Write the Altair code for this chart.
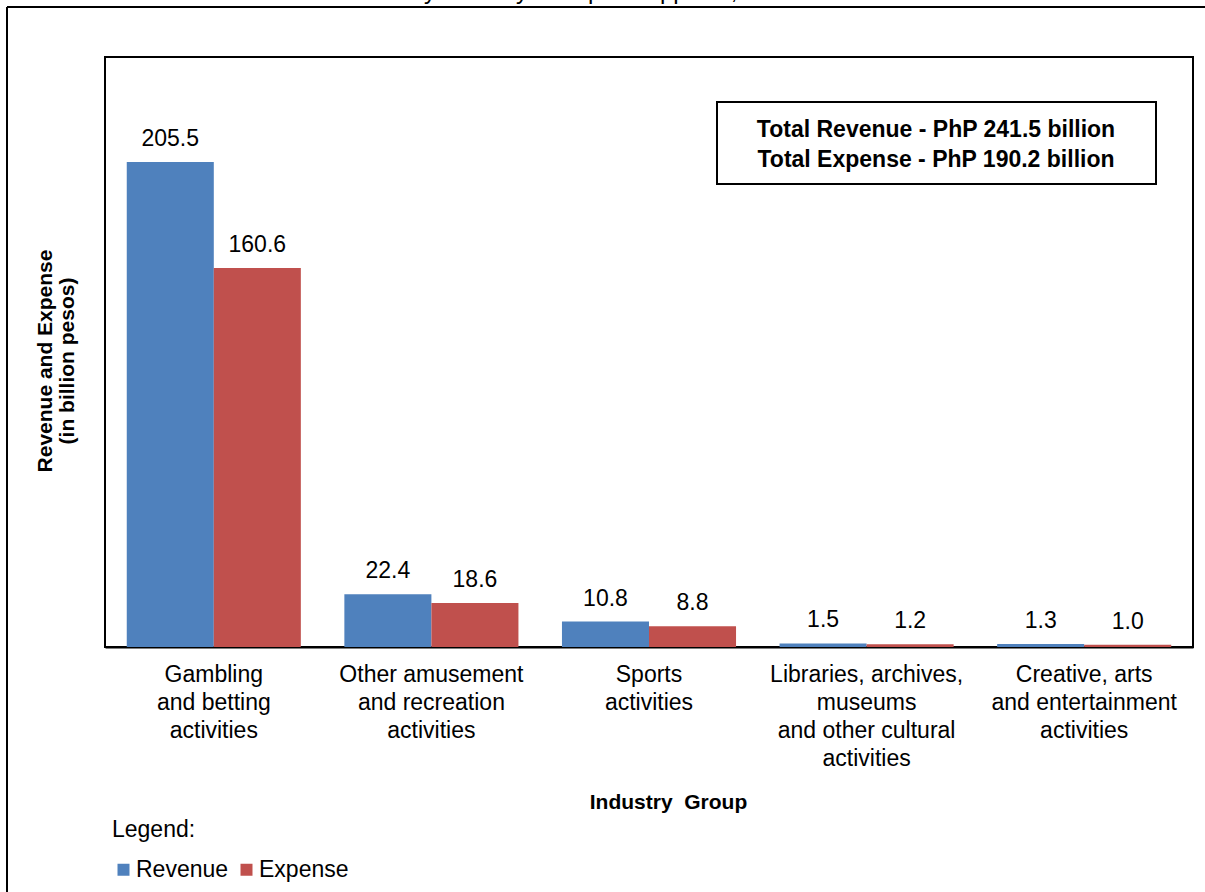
import altair as alt
import pandas as pd

# ---------------- data ----------------
categories = [
    "Gambling\nand betting\nactivities",
    "Other amusement\nand recreation\nactivities",
    "Sports\nactivities",
    "Libraries, archives,\nmuseums\nand other cultural\nactivities",
    "Creative, arts\nand entertainment\nactivities",
]
revenue = [205.5, 22.4, 10.8, 1.5, 1.3]
expense = [160.6, 18.6, 8.8, 1.2, 1.0]
series = ["Revenue", "Expense"]
colors = ["#4F81BD", "#C0504D"]
y_max = 250

totals_text = ["Total Revenue - PhP 241.5 billion", "Total Expense - PhP 190.2 billion"]
y_title = ["Revenue and Expense", "(in billion pesos)"]
x_title = "Industry \u00a0Group"
clipped_title = "by Industry Group: Philippines, 2015"
legend_title = "Legend:"

FONT = "Liberation Sans"

rows = []
for c, r, e in zip(categories, revenue, expense):
    rows.append({"group": c, "series": series[0], "value": r})
    rows.append({"group": c, "series": series[1], "value": e})
df = pd.DataFrame(rows)
one = pd.DataFrame({"k": [0]})

x_enc = alt.X(
    "group:N",
    sort=categories,
    scale=alt.Scale(paddingInner=0.2, paddingOuter=0.1),
    axis=alt.Axis(
        title=x_title,
        labelExpr="split(datum.label, '\\n')",
        labelAngle=0,
        labelFont=FONT,
        labelFontSize=23,
        labelColor="black",
        labelLineHeight=28,
        labelBaseline="top",
        labelPadding=16,
        labelLimit=0,
        labelOverlap=False,
        ticks=False,
        tickSize=0,
        domain=True,
        domainColor="black",
        domainWidth=2,
        grid=False,
        titleFont=FONT,
        titleFontSize=21,
        titleFontWeight="bold",
        titleColor="black",
        titleX=563,
        titleY=155,
        titleAlign="center",
        titleBaseline="middle",
    ),
)
xoff_enc = alt.XOffset("series:N", sort=series, scale=alt.Scale(domain=series, paddingInner=0, paddingOuter=0))
y_enc = alt.Y("value:Q", scale=alt.Scale(domain=[0, y_max], nice=False, zero=True), axis=None)

bars = alt.Chart(df).mark_bar().encode(
    x=x_enc,
    xOffset=xoff_enc,
    y=y_enc,
    color=alt.Color(
        "series:N",
        sort=series,
        scale=alt.Scale(domain=series, range=colors),
        legend=alt.Legend(
            title=legend_title,
            orient="none",
            legendX=7,
            legendY=762,
            direction="horizontal",
            symbolType="square",
            symbolSize=144,
            symbolStrokeWidth=0,
            labelFont=FONT,
            labelFontSize=23,
            labelColor="black",
            labelOffset=1,
            labelLimit=0,
            columnPadding=6,
            titleFont=FONT,
            titleFontSize=23,
            titleFontWeight="normal",
            titleColor="black",
            titleAnchor="start",
            titlePadding=16,
            padding=0,
        ),
    ),
)

labels = alt.Chart(df).mark_text(
    baseline="alphabetic", dy=-16, fontSize=23, font=FONT, color="black"
).encode(
    x=x_enc,
    xOffset=xoff_enc,
    y=y_enc,
    text=alt.Text("value:Q", format=".1f"),
)

# totals box
box = alt.Chart(one).mark_rect(fill="white", stroke="black", strokeWidth=2).encode(
    x=alt.value(612), x2=alt.value(1051), y=alt.value(45), y2=alt.value(127)
)
box_text = alt.Chart(one).mark_text(
    text=totals_text, font=FONT, fontSize=23, fontWeight="bold", color="black",
    align="center", baseline="middle", lineHeight=30,
).encode(x=alt.value(831), y=alt.value(73))

# y axis title
ytitle = alt.Chart(one).mark_text(
    text=y_title, font=FONT, fontSize=21, fontWeight="bold", color="black",
    align="center", baseline="middle", lineHeight=22, angle=270,
).encode(x=alt.value(-59), y=alt.value(304))

# outer frame (clipped at the page edge) and clipped title
frame_top = alt.Chart(one).mark_rule(color="black", strokeWidth=2).encode(
    x=alt.value(-98), x2=alt.value(1300), y=alt.value(-50)
)
frame_left = alt.Chart(one).mark_rule(color="black", strokeWidth=2).encode(
    x=alt.value(-98), y=alt.value(-50), y2=alt.value(900)
)
top_title = alt.Chart(one).mark_text(
    text=clipped_title, font=FONT, fontSize=24, color="black",
    align="center", baseline="alphabetic",
).encode(x=alt.value(499), y=alt.value(-58))

chart = alt.layer(
    frame_top, frame_left, top_title, bars, labels, box, box_text, ytitle
).properties(
    width=1088,
    height=590,
    autosize=alt.AutoSizeParams(type="none"),
    padding={"left": 105, "top": 57, "right": 12, "bottom": 245},
    background="white",
).configure_view(
    stroke="black", strokeWidth=2
).configure_text(font=FONT)

chart.save("out.html", embed_options={"renderer": "svg", "actions": False})
